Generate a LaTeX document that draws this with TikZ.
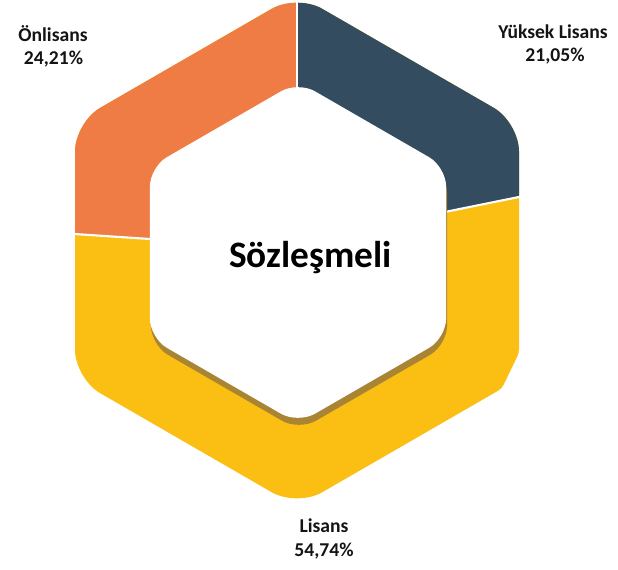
\documentclass[tikz,border=0pt]{standalone}
\usepackage{fontspec}
\setmainfont{Carlito}
\definecolor{orng}{HTML}{F07C45}
\definecolor{darkseg}{HTML}{334C5F}
\definecolor{yel}{HTML}{FBBE12}
\definecolor{shad}{HTML}{A98533}
\begin{document}
\begin{tikzpicture}[x=0.75pt,y=-0.75pt,
  lbl/.style={font=\bfseries\fontsize{14.7}{17}\selectfont, anchor=base, inner sep=0pt, text=black!92},
  ttl/.style={font=\bfseries\fontsize{28}{32}\selectfont, anchor=base, inner sep=0pt, text=black},
  sep/.style={draw=white, line width=1.6pt}]
\useasboundingbox (0,0) rectangle (618,569);
\def\outerhex{(75,250) [rounded corners=21.75pt] -- (75,122.35) -- (297,-5.8) -- (519,122.35) [rounded corners=3pt] -- (519,353) -- (501.7,388.65) [rounded corners=21.75pt] -- (297,506.8) -- (75,378.65) -- cycle}
\def\innerhex{(149.9,250) [rounded corners=14.6pt] -- (149.9,167) -- (298,81.5) -- (446.1,167) -- (446.1,338) -- (298,423.5) -- (149.9,338) -- cycle}
% segment boundary coordinates
\coordinate (tA) at (297,-20);
\coordinate (tB) at (297,120);
\coordinate (rA) at (430,215.0);
\coordinate (rB) at (545,191.7);
\coordinate (lA) at (165,240.0);
\coordinate (lB) at (55,232.7);
% ring
\fill[yel] \outerhex;
\begin{scope}
  \clip \outerhex;
  \fill[orng] (297,-50) -- (297,248.8) -- (-50,225.7) -- (-50,-50) -- cycle;
  \fill[darkseg] (297,-50) -- (297,242) -- (700,160.3) -- (700,-50) -- cycle;
\end{scope}
\draw[sep] (tA) -- (tB);
\draw[sep] (rA) -- (rB);
\draw[sep] (lA) -- (lB);
% shadow and hole
\begin{scope}[shift={(1,7)}]
  \fill[shad] \innerhex;
\end{scope}
\fill[white] \innerhex;
% texts
\node[ttl] (title) at (310.5,267) {Sözleşmeli};
\node[lbl] (onl1) at (53,41) {Önlisans};
\node[lbl] (onl2) at (53.5,64.3) {24,21\%};
\node[lbl] (yl1) at (553,38.3) {Yüksek Lisans};
\node[lbl] (yl2) at (555,61.7) {21,05\%};
\node[lbl] (li1) at (324,532) {Lisans};
\node[lbl] (li2) at (324,556.7) {54,74\%};
\end{tikzpicture}
\end{document}
